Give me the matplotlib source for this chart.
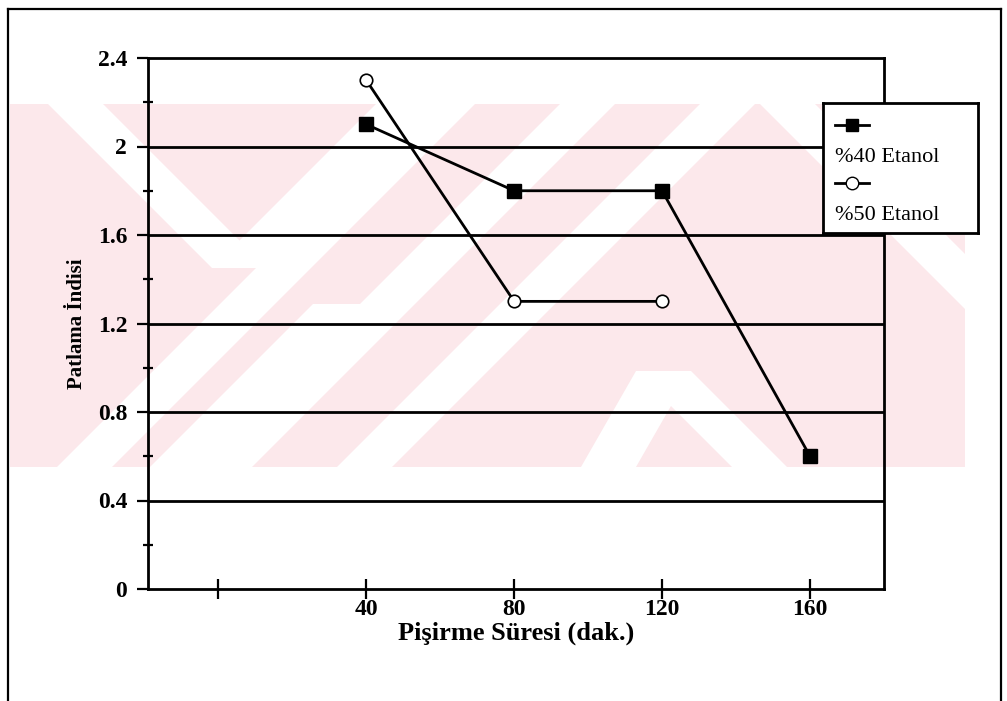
import matplotlib.pyplot as plt
from matplotlib.lines import Line2D
from matplotlib.patches import Polygon

W, H = 1007, 701

# cooking time (min) and popping index
sure_40 = [40, 80, 120, 160]
indis_40 = [2.1, 1.8, 1.8, 0.6]
sure_50 = [40, 80, 120]
indis_50 = [2.3, 1.3, 1.3]
seri_adlari = ['%40 Etanol', '%50 Etanol']

x_ticks = [0, 40, 80, 120, 160]
x_tick_labels = ['', '40', '80', '120', '160']
y_ticks = [0, 0.4, 0.8, 1.2, 1.6, 2.0, 2.4]
y_tick_labels = ['0', '0.4', '0.8', '1.2', '1.6', '2', '2.4']

plt.rcParams['font.family'] = ['Liberation Serif', 'DejaVu Serif']

fig = plt.figure(figsize=(W / 100, H / 100), dpi=100)


def fx(x):
    return x / W


def fy(y):
    return 1 - y / H


# background layer in page pixels (origin top-left)
bg = fig.add_axes([0, 0, 1, 1], zorder=-5)
bg.set_xlim(0, W)
bg.set_ylim(H, 0)
bg.axis('off')

pembe = '#fce8eb'
bg.add_patch(Polygon([(10, 104), (965, 104), (965, 467), (10, 467)],
                     closed=True, facecolor=pembe, edgecolor='none'))
beyaz = [
    [(48, 104), (103, 104), (267, 268), (212, 268)],
    [(212, 268), (267, 268), (431, 104), (376, 104)],
    [(150, 467), (205, 467), (368, 304), (313, 304)],
    [(420, 104), (475, 104), (112, 467), (57, 467)],
    [(560, 104), (615, 104), (252, 467), (197, 467)],
    [(700, 104), (755, 104), (392, 467), (337, 467)],
    [(636, 371), (691, 371), (787, 467), (732, 467)],
    [(581, 467), (636, 467), (691, 371), (636, 371)],
    [(760, 104), (815, 104), (965, 254), (965, 309)],
]
for poly in beyaz:
    bg.add_patch(Polygon(poly, closed=True, facecolor='white',
                         edgecolor='none'))

# page frame
for xs, ys in [([8, 8], [9, 701]), ([8, 1001], [9, 9]), ([1001, 1001], [9, 701])]:
    bg.add_line(Line2D(xs, ys, color='black', lw=1.6))

ax = fig.add_axes([fx(148), fy(589), (884 - 148) / W, (589 - 58) / H])
ax.set_facecolor('none')
ax.set_xlim(-19, 180)
ax.set_ylim(0, 2.4)

for v in y_ticks[1:-1]:
    ax.axhline(v, color='black', lw=2.0, zorder=1)

ax.plot(sure_40, indis_40, color='black', lw=2.0, marker='s', ms=10,
        mfc='black', mec='black', zorder=3, label=seri_adlari[0])
ax.plot(sure_50, indis_50, color='black', lw=2.0, marker='o', ms=9,
        mfc='white', mec='black', mew=1.2, zorder=3, label=seri_adlari[1])

for s in ax.spines.values():
    s.set_linewidth(2.0)

ax.set_xticks(x_ticks)
ax.set_xticklabels(x_tick_labels)
ax.set_yticks(y_ticks)
ax.set_yticklabels(y_tick_labels)
ax.set_yticks([0.2, 0.6, 1.0, 1.4, 1.8, 2.2], minor=True)
ax.tick_params(axis='x', direction='inout', length=14, width=1.6, pad=0,
               labelsize=17)
ax.tick_params(axis='y', which='major', direction='out', length=8, width=1.6,
               pad=7, labelsize=17)
ax.tick_params(axis='y', which='minor', direction='inout', length=7, width=1.6)
for lab in ax.get_xticklabels() + ax.get_yticklabels():
    lab.set_fontweight('bold')

ax.set_xlabel('Pişirme Süresi (dak.)', fontsize=19, fontweight='bold',
              labelpad=1)
ax.set_ylabel('Patlama İndisi', fontsize=15, fontweight='bold', labelpad=8)

# legend box: sample line above each label
lax = fig.add_axes([fx(823), fy(233), (978 - 823) / W, (233 - 103) / H],
                   zorder=5)
lax.set_xlim(0, 155)
lax.set_ylim(130, 0)
lax.set_xticks([])
lax.set_yticks([])
lax.set_facecolor('white')
for s in lax.spines.values():
    s.set_linewidth(2.0)
for line, y0 in zip(ax.get_lines()[-2:], [22, 80]):
    lax.plot([12, 29, 46], [y0, y0, y0], color='black', lw=2.0,
             marker=line.get_marker(), markevery=[1], ms=9,
             mfc=line.get_markerfacecolor(), mec='black')
    lax.text(12, y0 + 32, line.get_label(), fontsize=16, va='center',
             ha='left')

fig.savefig('out.png', dpi=100)
